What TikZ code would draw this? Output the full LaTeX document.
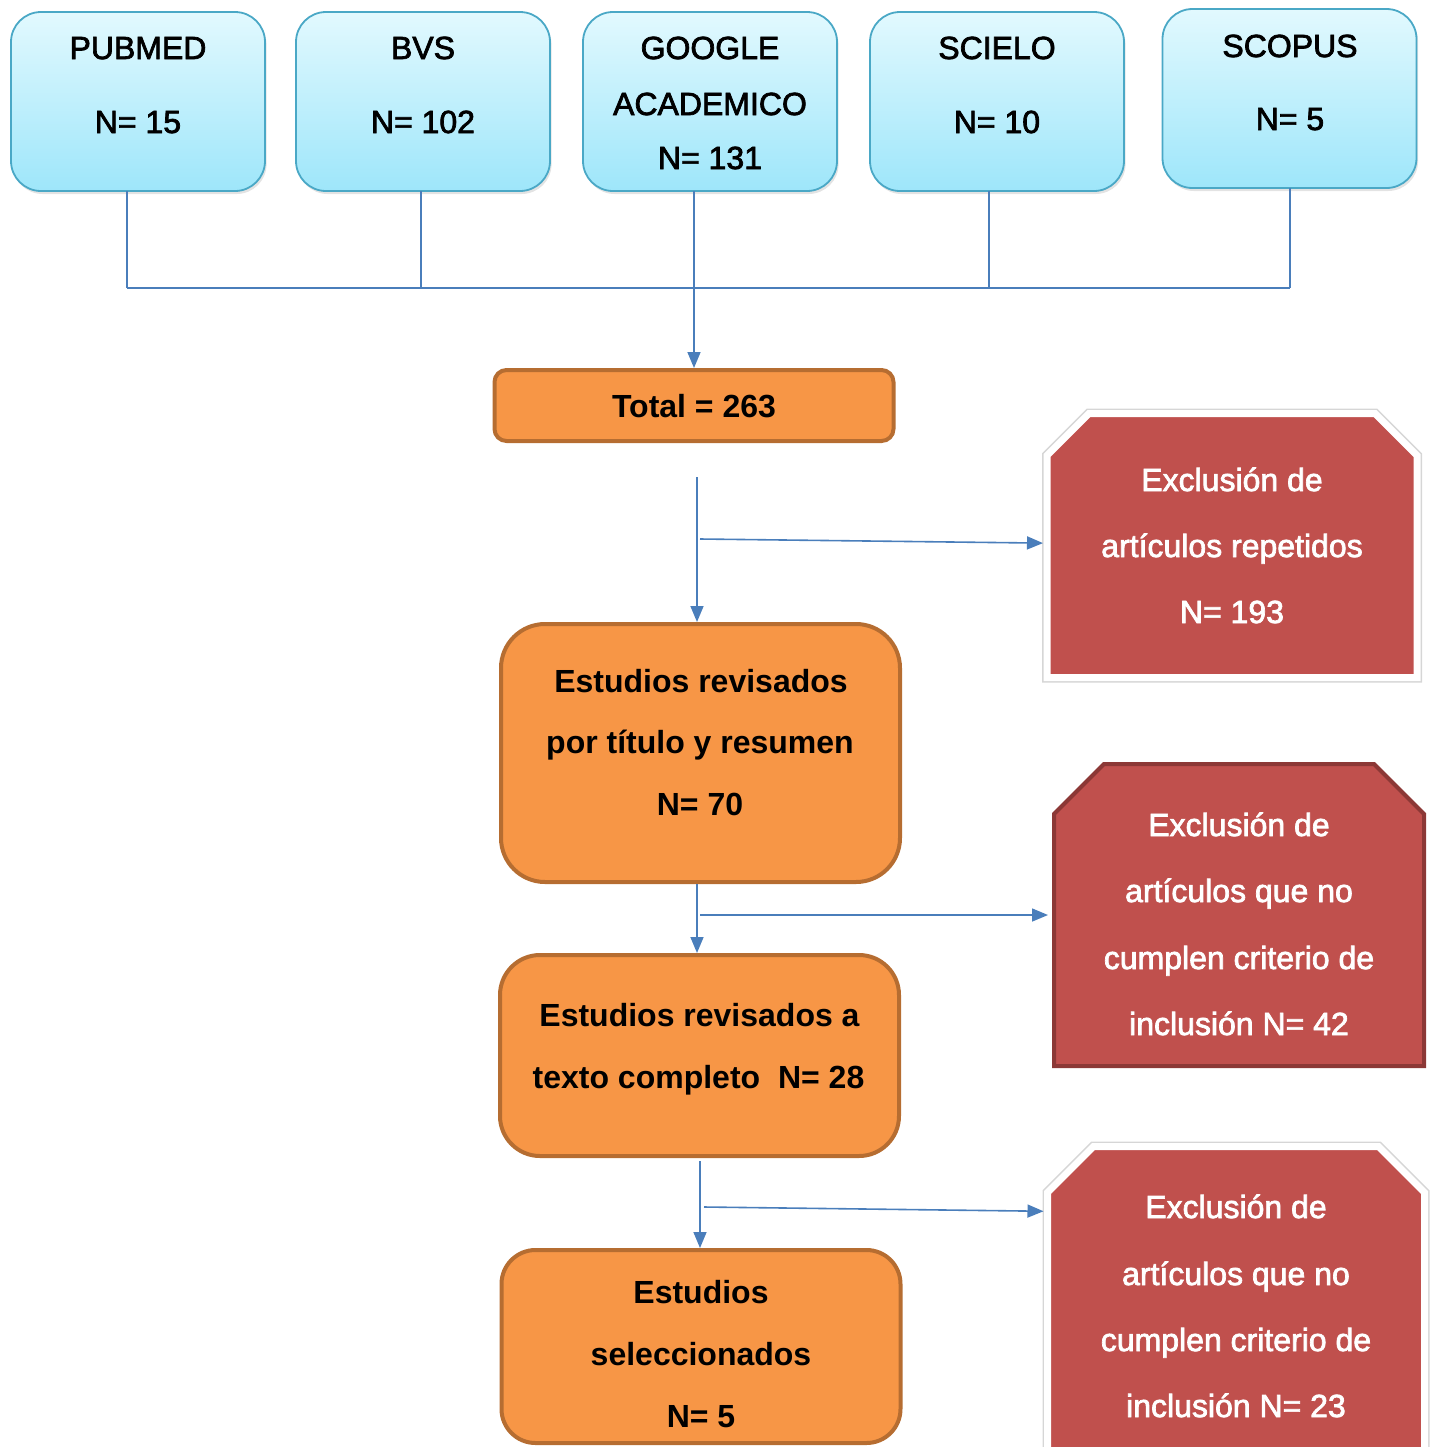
\documentclass[tikz,border=0pt]{standalone}
\usepackage{fontspec}
\setmainfont{Liberation Sans}
\newfontfamily\medf[FakeBold=2.2]{Liberation Sans}
\usetikzlibrary{arrows.meta,shadows}
\definecolor{lineblue}{HTML}{4A7EBB}
\definecolor{dbtop}{HTML}{E2F9FE}
\definecolor{dbbot}{HTML}{9EE6FA}
\definecolor{dbbrd}{HTML}{4AA8C6}
\definecolor{ofill}{HTML}{F79646}
\definecolor{obrd}{HTML}{B66D31}
\definecolor{rfill}{HTML}{C0504D}
\definecolor{rbrd}{HTML}{8C3836}
\begin{document}
\begin{tikzpicture}[x=0.5pt,y=-0.5pt,
  dbbox/.style={draw=dbbrd, line width=0.9pt, rounded corners=15pt,
    top color=dbtop, bottom color=dbbot, minimum width=127pt,
    minimum height=89.5pt, outer sep=0pt, inner sep=0pt,
    drop shadow={opacity=0.22, shadow xshift=0.8pt, shadow yshift=-1.5pt}},
  obox/.style={draw=obrd, line width=2pt, fill=ofill, minimum width=199.5pt,
    outer sep=1pt, inner sep=0pt},
  exbox/.style={inner sep=0pt, outer sep=0pt},
  redwhite/.style={fill=rfill, draw=white, line width=3.5pt, line join=miter,
    preaction={draw=black!16, line width=5pt, line join=miter},
    drop shadow={opacity=0.25, shadow xshift=0.6pt, shadow yshift=-1.4pt}},
  reddark/.style={fill=rfill, draw=rbrd, line width=2pt, line join=miter},
  dbl/.style={anchor=base, inner sep=0pt, font=\medf\fontsize{16}{19}\selectfont},
  obl/.style={anchor=base, inner sep=0pt, font=\bfseries\fontsize{16}{19}\selectfont},
  rdl/.style={anchor=base, inner sep=0pt, text=white, font=\medf\fontsize{16}{19}\selectfont},
  conn/.style={draw=lineblue, line width=0.8pt},
  arr/.style={conn, -{Triangle[length=8pt,width=6.5pt]}, lineblue}
]
\useasboundingbox (0,0) rectangle (1436,1447);

% database boxes
\node[dbbox] (pub) at (138,101.5) {};
\node[dbbox] (bvs) at (423,101.5) {};
\node[dbbox] (goo) at (710,101.5) {};
\node[dbbox] (sci) at (997,101.5) {};
\node[dbbox] (sco) at (1289.5,98.5) {};
\node[dbl] (pubA) at (138,59) {PUBMED};
\node[dbl] (pubB) at (138,133) {N= 15};
\node[dbl] (bvsA) at (423,59) {BVS};
\node[dbl] (bvsB) at (423,133) {N= 102};
\node[dbl] (gooA) at (710,59) {GOOGLE};
\node[dbl] (gooB) at (710,115) {ACADEMICO};
\node[dbl] (gooC) at (710,169) {N= 131};
\node[dbl] (sciA) at (997,59) {SCIELO};
\node[dbl] (sciB) at (997,133) {N= 10};
\node[dbl] (scoA) at (1290,57) {SCOPUS};
\node[dbl] (scoB) at (1290,130) {N= 5};

% orange boxes
\node[obox, minimum height=35.5pt, rounded corners=6pt] (tot) at (694,405.5) {};
\node[obl] (totA) at (694,417) {Total = 263};
\node[obox, minimum height=129pt, rounded corners=22pt] (rev) at (700.5,753) {};
\node[obl] (revA) at (701,692) {Estudios revisados};
\node[obl] (revB) at (700,753) {por título y resumen};
\node[obl] (revC) at (700,815) {N= 70};
\node[obox, minimum height=100.5pt, rounded corners=20pt] (txt) at (699.5,1055.5) {};
\node[obl] (txtA) at (699.5,1026) {Estudios revisados a};
\node[obl] (txtB) at (698.5,1088) {texto completo\ \ N= 28};
\node[obox, minimum height=96.5pt, rounded corners=17pt] (sel) at (701,1346.5) {};
\node[obl] (selA) at (701,1303) {Estudios};
\node[obl] (selB) at (701,1365) {seleccionados};
\node[obl] (selC) at (701,1427) {N= 5};

% exclusion boxes
\node[exbox, minimum width=185pt, minimum height=132pt] (ex1) at (1232,545.5) {};
\draw[redwhite] ([yshift=-21pt]ex1.north west) -- ([xshift=21pt]ex1.north west)
  -- ([xshift=-21pt]ex1.north east) -- ([yshift=-21pt]ex1.north east)
  -- (ex1.south east) -- (ex1.south west) -- cycle;
\node[rdl] (ex1A) at (1232,491) {Exclusión de};
\node[rdl] (ex1B) at (1232,557) {artículos repetidos};
\node[rdl] (ex1C) at (1232,623) {N= 193};

\node[exbox, minimum width=185pt, minimum height=151pt] (ex2) at (1239,915) {};
\draw[reddark] ([yshift=-25pt]ex2.north west) -- ([xshift=25pt]ex2.north west)
  -- ([xshift=-25pt]ex2.north east) -- ([yshift=-25pt]ex2.north east)
  -- (ex2.south east) -- (ex2.south west) -- cycle;
\node[rdl] (ex2A) at (1239,836) {Exclusión de};
\node[rdl] (ex2B) at (1239,902) {artículos que no};
\node[rdl] (ex2C) at (1239,969) {cumplen criterio de};
\node[rdl] (ex2D) at (1239,1035) {inclusión N= 42};

\node[exbox, minimum width=188.5pt, minimum height=159.75pt] (ex3) at (1236,1306.25) {};
\draw[redwhite] ([yshift=-23pt]ex3.north west) -- ([xshift=23pt]ex3.north west)
  -- ([xshift=-23pt]ex3.north east) -- ([yshift=-23pt]ex3.north east)
  -- (ex3.south east) -- (ex3.south west) -- cycle;
\node[rdl] (ex3A) at (1236,1218) {Exclusión de};
\node[rdl] (ex3B) at (1236,1285) {artículos que no};
\node[rdl] (ex3C) at (1236,1351) {cumplen criterio de};
\node[rdl] (ex3D) at (1236,1417) {inclusión N= 23};

% connectors from databases
\coordinate (k1) at (127,288);
\coordinate (k2) at (421,288);
\coordinate (k3) at (694,288);
\coordinate (k4) at (989,288);
\coordinate (k5) at (1290,288);
\draw[conn] (k1 |- pub.south) -- (k1);
\draw[conn] (k2 |- bvs.south) -- (k2);
\draw[conn] (k3 |- goo.south) -- (k3);
\draw[conn] (k4 |- sci.south) -- (k4);
\draw[conn] (k5 |- sco.south) -- (k5);
\draw[conn] (k1) -- (k5);
\draw[arr] (k3) -- (k3 |- tot.north);

% flow
\coordinate (c1) at (697,477);
\draw[arr] (c1) -- (c1 |- rev.north);
\coordinate (b1) at (700,539);
\draw[arr] (b1) -- ([xshift=-2pt,yshift=1.2pt]ex1.west);
\draw[arr] (rev.south -| c1) -- (txt.north -| c1);
\coordinate (b2) at (700,915);
\draw[arr] (b2) -- ([xshift=-3pt]ex2.west);
\coordinate (c3) at (700,1161);
\draw[arr] (c3) -- (c3 |- sel.north);
\coordinate (b3) at (704,1207);
\draw[arr] (b3) -- ([xshift=-2pt,yshift=47.5pt]ex3.west);
\end{tikzpicture}
\end{document}
